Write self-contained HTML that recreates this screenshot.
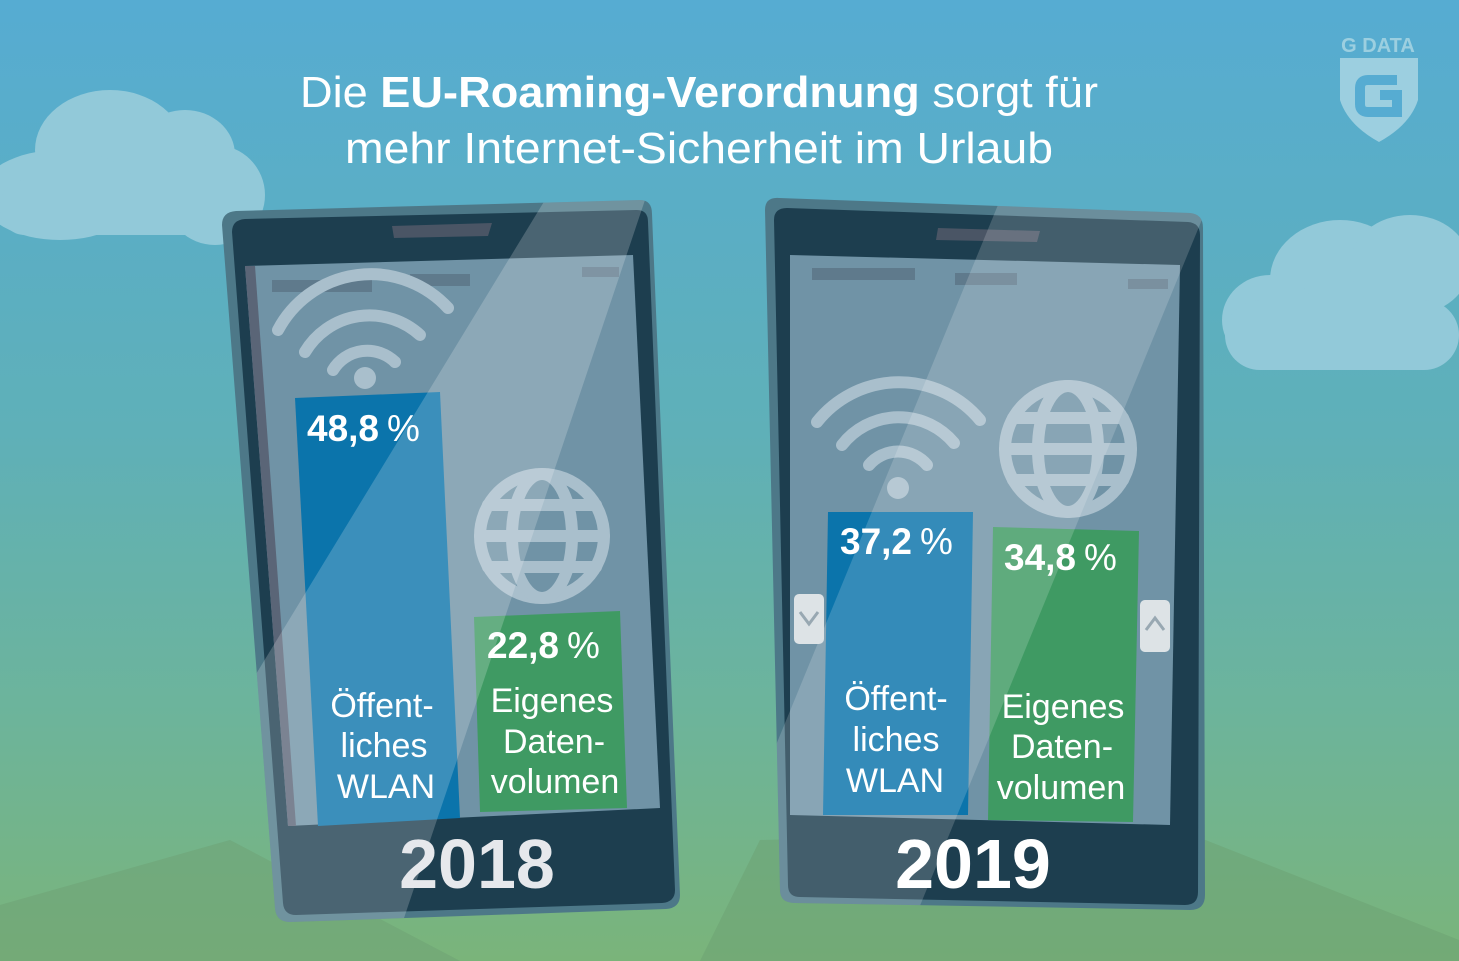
<!DOCTYPE html><html><head><meta charset="utf-8"><style>body{margin:0}svg{display:block}</style></head><body>
<svg width="1459" height="961" viewBox="0 0 1459 961" xmlns="http://www.w3.org/2000/svg" font-family="Liberation Sans, sans-serif">
<defs>
<linearGradient id="bg" x1="0" y1="0" x2="0" y2="1">
<stop offset="0" stop-color="#56acd2"/><stop offset="0.45" stop-color="#5fb0b8"/><stop offset="0.75" stop-color="#6db49a"/><stop offset="1" stop-color="#7ab47a"/></linearGradient>
<clipPath id="p1"><path d="M222,225 Q222,212 236,211 L640,200 Q652,200 652,214 L680,895 Q680,908 666,909 L290,922 Q276,922 275,908 Z"/></clipPath>
<clipPath id="p2"><path d="M765,210 Q765,197 779,198 L1190,213 Q1203,214 1203,228 L1205,895 Q1205,910 1190,910 L795,903 Q780,903 780,890 Z"/></clipPath>
</defs>
<rect width="1459" height="961" fill="url(#bg)"/>
<polygon points="0,905 230,840 460,961 0,961" fill="#6da074" opacity="0.5"/>
<polygon points="1180,830 1459,940 1459,961 700,961 760,840" fill="#6b9f72" opacity="0.5"/>
<g fill="#92c9d9">
<ellipse cx="110" cy="150" rx="75" ry="60"/><ellipse cx="185" cy="155" rx="50" ry="45"/><ellipse cx="215" cy="195" rx="50" ry="50"/><ellipse cx="60" cy="195" rx="80" ry="45"/><rect x="0" y="180" width="250" height="55" rx="25"/>
<ellipse cx="1340" cy="280" rx="70" ry="60"/><ellipse cx="1410" cy="265" rx="60" ry="50"/><ellipse cx="1270" cy="320" rx="48" ry="45"/><rect x="1225" y="300" width="234" height="70" rx="35"/>
</g>
<g fill="#9ccfe0">
<text x="1378" y="52" font-size="20" font-weight="bold" text-anchor="middle">G DATA</text>
<path d="M1340,58 L1418,58 L1418,100 Q1410,125 1379,142 Q1348,125 1340,100 Z"/>
</g>
<path d="M1397,80 L1368,80 Q1360,80 1360,88 L1360,104 Q1360,112 1368,112 L1397,112 L1397,95 L1380,95" stroke="#56acd2" stroke-width="10" fill="none"/>
<g fill="#fff" font-size="44" text-anchor="middle">
<text x="699" y="107" textLength="798" lengthAdjust="spacingAndGlyphs">Die <tspan font-weight="bold">EU-Roaming-Verordnung</tspan> sorgt für</text>
<text x="699" y="163" textLength="708" lengthAdjust="spacingAndGlyphs">mehr Internet-Sicherheit im Urlaub</text>
</g>
<!-- phone 1 -->
<path d="M222,225 Q222,212 236,211 L640,200 Q652,200 652,214 L680,895 Q680,908 666,909 L290,922 Q276,922 275,908 Z" fill="#4d7888"/>
<path d="M232,232 Q232,220 245,219 L637,210 Q648,210 648,222 L675,890 Q675,902 662,903 L296,915 Q284,915 283,903 Z" fill="#1d3e4f"/>
<polygon points="392,226 492,223 488,236 394,238" fill="#4a5565"/>
<polygon points="245,266 633,255 660,808 288,826" fill="#7093a6"/>
<polygon points="245,266 255,266 296,826 288,826" fill="#5a6577"/>
<rect x="272" y="280" width="100" height="12" fill="#5f7a8c"/><rect x="410" y="274" width="60" height="12" fill="#5f7a8c"/><rect x="582" y="267" width="37" height="10" fill="#5f7a8c"/>
<g fill="none" stroke="#a9bfcc" stroke-width="12" stroke-linecap="round">
<path d="M278,330 A105,105 0 0 1 448,308"/><path d="M305,352 A75,75 0 0 1 420,335"/><path d="M333,370 A40,40 0 0 1 395,362"/>
<circle cx="542" cy="536" r="62"/><ellipse cx="542" cy="536" rx="30" ry="62"/><line x1="480" y1="536" x2="604" y2="536"/><path d="M488,505 H596 M488,567 H596"/>
</g>
<circle cx="365" cy="378" r="11" fill="#a9bfcc"/>
<polygon points="295,398 440,392 460,818 318,826" fill="#0b74ab"/>
<polygon points="474,617 620,611 627,808 480,812" fill="#3f9a63"/>
<g clip-path="url(#p1)"><polygon points="545,200 645,200 400,930 100,930" fill="#fff" opacity="0.2"/></g>
<g fill="#fff">
<text x="307" y="441" font-size="37" font-weight="bold">48,8<tspan font-weight="normal" dx="8">%</tspan></text>
<text x="487" y="658" font-size="37" font-weight="bold">22,8<tspan font-weight="normal" dx="8">%</tspan></text>
<g font-size="34" text-anchor="middle"><text x="382" y="717">Öffent-</text><text x="384" y="757">liches</text><text x="386" y="798">WLAN</text>
<text x="552" y="712">Eigenes</text><text x="554" y="753">Daten-</text><text x="555" y="793">volumen</text></g>
<text x="477" y="888" font-size="70" font-weight="bold" text-anchor="middle" fill="#e6e8ec">2018</text>
</g>
<!-- phone 2 -->
<path d="M765,210 Q765,197 779,198 L1190,213 Q1203,214 1203,228 L1205,895 Q1205,910 1190,910 L795,903 Q780,903 780,890 Z" fill="#4d7888"/>
<path d="M774,220 Q774,208 787,208 L1188,222 Q1200,223 1200,235 L1198,892 Q1198,905 1185,905 L800,897 Q788,897 788,885 Z" fill="#1d3e4f"/>
<polygon points="938,228 1040,231 1037,242 936,240" fill="#4a5565"/>
<polygon points="790,255 1180,265 1170,825 790,815" fill="#7093a6"/>
<rect x="812" y="268" width="103" height="12" fill="#5f7a8c"/><rect x="955" y="273" width="62" height="12" fill="#5f7a8c"/><rect x="1128" y="279" width="40" height="10" fill="#5f7a8c"/>
<g fill="none" stroke="#a9bfcc" stroke-width="12" stroke-linecap="round">
<path d="M817,422 A105,105 0 0 1 980,420"/><path d="M842,445 A72,72 0 0 1 954,443"/><path d="M869,465 A38,38 0 0 1 927,465"/>
<circle cx="1068" cy="449" r="63"/><ellipse cx="1068" cy="449" rx="30" ry="63"/><line x1="1005" y1="449" x2="1131" y2="449"/><path d="M1013,418 H1123 M1013,480 H1123"/>
</g>
<circle cx="898" cy="488" r="11" fill="#a9bfcc"/>
<polygon points="828,512 973,512 968,815 823,815" fill="#0b74ab"/>
<polygon points="993,527 1139,531 1133,822 988,820" fill="#3f9a63"/>
<g clip-path="url(#p2)"><polygon points="1000,200 1210,200 910,930 700,930" fill="#fff" opacity="0.17"/></g>
<rect x="794" y="594" width="30" height="50" rx="5" fill="#dde3e6"/><path d="M800,612 L809,624 L818,612" stroke="#98a8b2" stroke-width="3" fill="none"/>
<rect x="1140" y="600" width="30" height="52" rx="5" fill="#dde3e6"/><path d="M1146,630 L1155,618 L1164,630" stroke="#98a8b2" stroke-width="3" fill="none"/>
<g fill="#fff">
<text x="840" y="554" font-size="37" font-weight="bold">37,2<tspan font-weight="normal" dx="8">%</tspan></text>
<text x="1004" y="570" font-size="37" font-weight="bold">34,8<tspan font-weight="normal" dx="8">%</tspan></text>
<g font-size="34" text-anchor="middle"><text x="896" y="710">Öffent-</text><text x="896" y="751">liches</text><text x="895" y="792">WLAN</text>
<text x="1063" y="718">Eigenes</text><text x="1062" y="758">Daten-</text><text x="1061" y="799">volumen</text></g>
<text x="973" y="888" font-size="70" font-weight="bold" text-anchor="middle">2019</text>
</g>
</svg>
</body></html>
